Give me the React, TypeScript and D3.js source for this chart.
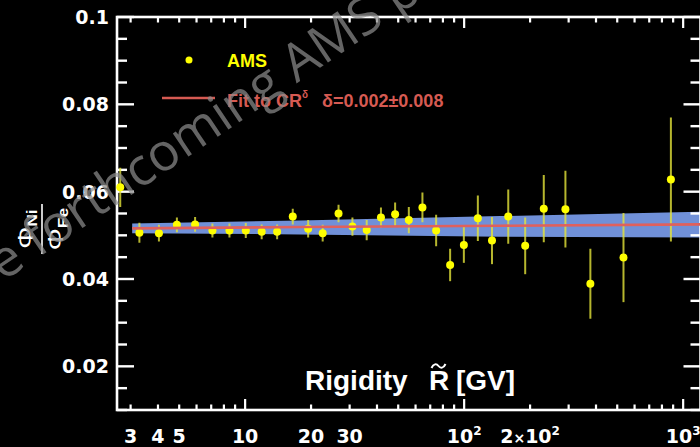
import React from 'react';
import * as d3 from 'd3';

// ---- data ----
const rigidity = [2.69, 3.29, 4.04, 4.88, 5.91, 7.09, 8.48, 10.07, 11.9, 14.0, 16.5, 19.4, 22.6, 26.7, 30.9, 35.9, 41.7, 48.4, 55.9, 64.5, 74.5, 86.3, 99.7, 115.5, 134, 159, 190, 231, 290, 377, 534, 879];
const ratio = [0.0610, 0.0506, 0.0505, 0.0524, 0.0525, 0.0511, 0.0511, 0.0511, 0.0508, 0.0508, 0.0543, 0.0515, 0.0505, 0.0550, 0.0520, 0.0512, 0.0541, 0.0548, 0.0535, 0.0564, 0.0511, 0.0432, 0.0478, 0.0539, 0.0488, 0.0543, 0.0476, 0.0561, 0.0560, 0.0389, 0.0449, 0.0628];
const ratioError = [0.0045, 0.0023, 0.0019, 0.0017, 0.0017, 0.0016, 0.0016, 0.0017, 0.0017, 0.0017, 0.0018, 0.0020, 0.0019, 0.0020, 0.0021, 0.0023, 0.0023, 0.0027, 0.0030, 0.0034, 0.0036, 0.0037, 0.0041, 0.0052, 0.0054, 0.0062, 0.0065, 0.0077, 0.0088, 0.0080, 0.0102, 0.0142];

const fitRigidity = [3.05, 17.8, 146, 1200];
const fitCentral = [0.0516, 0.0519, 0.0522, 0.0525];
const fitUpper = [0.0527, 0.0534, 0.0544, 0.0554];
const fitLower = [0.0505, 0.0502, 0.0497, 0.0495];

const yTickValues = [0.02, 0.04, 0.06, 0.08, 0.1];
const yTickLabels = ['0.02', '0.04', '0.06', '0.08', '0.1'];
const xTickValues = [3, 4, 5, 10, 20, 30, 100, 200, 1000];
const xTickLabels = ['3', '4', '5', '10', '20', '30', '10^2', '2×10^2', '10^3'];

const legendData = 'AMS';
const legendFit = 'Fit to CR';
const legendDelta = 'δ=0.002±0.008';
const xTitle = 'Rigidity';
const watermark = 'le forthcoming AMS publication';

const W = 700, H = 447;
const L = 117, R = 700.5, T = 17, B = 410;
const TICK_FONT = "'DejaVu Sans', sans-serif";
const SANS = "'Liberation Sans', Arial, sans-serif";
const RED = '#d65a52';

function XLabel({ text, x, y }: { text: string; x: number; y: number }) {
  const [base, sup] = text.split('^');
  const parts = base.split('×');
  return (
    <text x={x} y={y} textAnchor="middle" fill="#fff" fontFamily={TICK_FONT} fontWeight="bold" fontSize={19}>
      {parts.length === 2 ? (
        <>
          <tspan>{parts[0]}</tspan>
          <tspan fontSize={14}>×</tspan>
          <tspan>{parts[1]}</tspan>
        </>
      ) : (
        <tspan>{base}</tspan>
      )}
      {sup ? <tspan dy={-8} fontSize={12}>{sup}</tspan> : null}
    </text>
  );
}

export default function App() {
  const x = d3.scaleLog().domain([2.6, 1200]).range([L, R]);
  const y = d3.scaleLinear().domain([0.01, 0.1]).range([B, T]);

  const xTicks = x.ticks();
  const yTicks = d3.range(0.01, 0.10001, 0.005);

  const fitPts = fitRigidity.map((r, i) => ({ r, c: fitCentral[i], hi: fitUpper[i], lo: fitLower[i] }));
  const bandPath = d3.area<any>().x(d => x(d.r)).y0(d => y(d.lo)).y1(d => y(d.hi))(fitPts) || '';
  const linePath = d3.line<any>().x(d => x(d.r)).y(d => y(d.c))(fitPts) || '';

  const pts = rigidity.map((r, i) => ({ r, v: ratio[i], e: ratioError[i] }));

  const isMajorX = (v: number) => Math.abs(Math.log10(v) - Math.round(Math.log10(v))) < 1e-6;
  const isMajorY = (v: number) => Math.abs(v * 50 - Math.round(v * 50)) < 1e-6;

  return (
    <svg width={W} height={H} style={{ position: 'absolute', left: 0, top: 0, display: 'block' }}>
      <defs>
        <clipPath id="plotClip">
          <rect x={L} y={T} width={R - L} height={B - T} />
        </clipPath>
      </defs>
      <rect x={0} y={0} width={W} height={H} fill="#000" />

      {/* fit band */}
      <g clipPath="url(#plotClip)">
        <path d={bandPath} fill="#7090d8" />
      </g>

      {/* axes frame */}
      <rect x={L} y={T} width={R - L} height={B - T} fill="none" stroke="#fff" strokeWidth={2.6} />
      {xTicks.map((t, i) => {
        const len = isMajorX(t) ? 11 : 5.5;
        return (
          <g key={'xt' + i} stroke="#fff" strokeWidth={2.2}>
            <line x1={x(t)} x2={x(t)} y1={B} y2={B - len} />
            <line x1={x(t)} x2={x(t)} y1={T} y2={T + len} />
          </g>
        );
      })}
      {yTicks.map((t, i) => {
        const len = isMajorY(t) ? 17 : 10;
        return (
          <g key={'yt' + i} stroke="#fff" strokeWidth={2.4}>
            <line x1={L} x2={L + len} y1={y(t)} y2={y(t)} />
            <line x1={R} x2={R - len} y1={y(t)} y2={y(t)} />
          </g>
        );
      })}
      {yTickValues.map((v, i) => (
        <text key={'yl' + i} x={109} y={y(v)} dy="0.36em" textAnchor="end" fill="#fff"
          fontFamily={TICK_FONT} fontWeight="bold" fontSize={19}>{yTickLabels[i]}</text>
      ))}
      {xTickValues.map((v, i) => (
        <XLabel key={'xl' + i} text={xTickLabels[i]} x={x(v)} y={443} />
      ))}

      {/* error bars and points */}
      <g clipPath="url(#plotClip)">
        {pts.map((p, i) => (
          <line key={'e' + i} x1={x(p.r)} x2={x(p.r)} y1={y(p.v - p.e)} y2={y(p.v + p.e)}
            stroke="#e4e43a" strokeWidth={2} strokeOpacity={0.8} />
        ))}
      </g>
      {pts.map((p, i) => (
        <circle key={'p' + i} cx={x(p.r)} cy={y(p.v)} r={4} fill="#ffff00" />
      ))}
      <g clipPath="url(#plotClip)">
        <path d={linePath} fill="none" stroke="#e0605c" strokeWidth={2.6} />
      </g>

      {/* legend */}
      <circle cx={189} cy={60} r={3.5} fill="#ffff00" />
      <text x={227} y={66.5} fill="#ffff00" fontFamily={SANS} fontWeight="bold" fontSize={18}>{legendData}</text>
      <line x1={162} x2={215} y1={98} y2={98} stroke={RED} strokeWidth={2.6} />
      <text x={227} y={107} fill={RED} fontFamily={SANS} fontWeight="bold" fontSize={18}>
        {legendFit}
        <tspan dy={-9} fontSize={10}>δ</tspan>
      </text>
      <text x={322} y={107} fill={RED} fontFamily={SANS} fontWeight="bold" fontSize={18}>{legendDelta}</text>

      {/* x title */}
      <text x={305} y={390} fill="#fff" fontFamily={SANS} fontWeight="bold" fontSize={28}>{xTitle}</text>
      <text x={429} y={390} fill="#fff" fontFamily={SANS} fontWeight="bold" fontSize={28}>R</text>
      <path d="M431.5 368 C433.5 363.5, 436.5 363.5, 438.5 366 S443.5 368.5, 445.5 364" fill="none" stroke="#fff" strokeWidth={2} />
      <text x={456} y={390} fill="#fff" fontFamily={SANS} fontWeight="bold" fontSize={28}>[GV]</text>

      {/* y title: fraction */}
      <g transform="translate(42,229) rotate(-90)">
        <g transform="scale(1.25,1)">
          <text x={0} y={-9} textAnchor="middle" fill="#fff" fontFamily={SANS} fontSize={22}>
            Φ<tspan dy={4} fontSize={14} fontWeight="bold">Ni</tspan>
          </text>
          <text x={0} y={21} textAnchor="middle" fill="#fff" fontFamily={SANS} fontSize={22}>
            Φ<tspan dy={5} fontSize={14} fontWeight="bold">Fe</tspan>
          </text>
        </g>
        <line x1={-25} x2={25} y1={0} y2={0} stroke="#fff" strokeWidth={1.6} />
      </g>

      {/* watermark */}
      <text transform="translate(-8,289) rotate(-34)" fill="#8a8a8a" fillOpacity={0.72}
        fontFamily="'Open Sans', sans-serif" fontSize={52}>{watermark}</text>
    </svg>
  );
}
